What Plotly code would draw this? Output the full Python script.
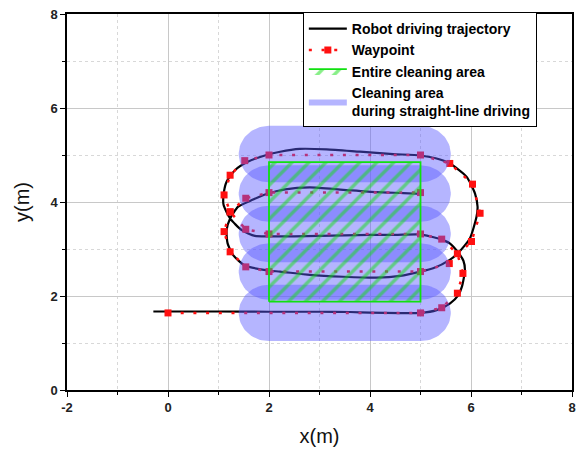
import numpy as np
import plotly.graph_objects as go

# ---- data ----
traj_x = [-0.29, 0.5, 1.0, 2.0, 3.0, 3.6, 4.0, 4.6, 5.0, 5.32,
          5.58, 5.75, 5.82, 5.88, 5.85, 5.75, 5.58, 5.39, 4.99,
          4.5, 4.0, 3.5, 3.0, 2.5, 2.0, 1.72,
          1.46, 1.23, 1.10, 1.10, 1.16, 1.33, 1.59, 1.95, 2.22, 2.61,
          3.14, 3.80, 4.46, 4.99,
          5.30, 5.58, 5.91, 6.08, 6.13, 6.11, 5.98, 5.75, 5.58, 5.25, 5.0, 4.6,
          4.13, 3.47, 2.81, 2.22, 2.0,
          1.52, 1.29, 1.18, 1.16, 1.23, 1.39, 1.66, 1.95, 2.32,
          2.81, 3.47, 4.13, 4.66, 5.06]
traj_y = [1.67, 1.67, 1.67, 1.665, 1.665, 1.66, 1.645, 1.635, 1.64, 1.70,
          1.84, 2.02, 2.20, 2.55, 2.75, 2.92, 3.12, 3.21, 3.31,
          3.30, 3.30, 3.29, 3.28, 3.27, 3.27, 3.28,
          3.40, 3.65, 3.94, 4.15, 4.43, 4.68, 4.86, 5.00, 5.07, 5.13,
          5.12, 5.07, 5.02, 4.99,
          4.93, 4.82, 4.54, 4.18, 3.90, 3.69, 3.23, 2.92, 2.77, 2.59, 2.52, 2.43,
          2.39, 2.41, 2.45, 2.52, 2.54,
          2.65, 2.87, 3.12, 3.40, 3.65, 3.90, 4.04, 4.17, 4.27,
          4.31, 4.26, 4.21, 4.19, 4.17]

wp_x = [0, 5, 5.42, 5.73, 5.84, 5.73, 5.42, 5, 2, 1.54, 1.23, 1.11, 1.23, 1.52, 2,
        5, 5.58, 6.03, 6.18, 6.01, 5.57, 5, 2, 1.54, 1.23, 1.11, 1.23, 1.54, 2, 5]
wp_y = [1.64, 1.64, 1.75, 2.06, 2.48, 2.90, 3.21, 3.32, 3.32, 3.42, 3.79, 4.15, 4.57, 4.88, 5.0,
        5.0, 4.82, 4.38, 3.76, 3.16, 2.69, 2.52, 2.52, 2.62, 2.94, 3.37, 3.79, 4.08, 4.2, 4.2]

area_x = [2.0, 5.0, 5.0, 2.0, 2.0]
area_y = [1.88, 1.88, 4.85, 4.85, 1.88]

row_y = [1.64, 2.52, 3.32, 4.18, 5.02]
row_x_start = 2.0
row_x_end = 5.0
clean_radius = 0.6

x_ticks = [-2, 0, 2, 4, 6, 8]
x_tick_labels = ["-2", "0", "2", "4", "6", "8"]
y_ticks = [0, 2, 4, 6, 8]
y_tick_labels = ["0", "2", "4", "6", "8"]

fig = go.Figure()

fig.add_trace(go.Scatter(
    x=traj_x, y=traj_y, mode="lines", name="Robot driving trajectory",
    line=dict(color="black", width=2.2, shape="spline", smoothing=0.6),
    legendrank=1))

fig.add_trace(go.Scatter(
    x=wp_x, y=wp_y, mode="lines+markers", name="Waypoint",
    line=dict(color="#ff1010", width=2.5, dash="3px,9.7px"),
    marker=dict(symbol="square", size=7, color="#ff1010"),
    legendrank=2))

# cleaning bands (capsules around each straight row)
for i, yc in enumerate(row_y):
    t1 = np.linspace(np.pi / 2, 3 * np.pi / 2, 40)
    t2 = np.linspace(-np.pi / 2, np.pi / 2, 40)
    cx = np.concatenate([row_x_start + clean_radius * np.cos(t1),
                         row_x_end + clean_radius * np.cos(t2)])
    cy = np.concatenate([yc + clean_radius * np.sin(t1),
                         yc + clean_radius * np.sin(t2)])
    cx = np.append(cx, cx[0])
    cy = np.append(cy, cy[0])
    fig.add_trace(go.Scatter(
        x=cx, y=cy, mode="lines", fill="toself",
        fillcolor="rgba(90,90,255,0.45)", line=dict(width=0, color="rgba(0,0,0,0)"),
        name="Cleaning area<br>during straight-line driving",
        showlegend=(i == 0), legendrank=4, hoverinfo="skip"))

fig.add_trace(go.Scatter(
    x=area_x, y=area_y, mode="lines", fill="toself", name="Entire cleaning area",
    line=dict(color="#10e010", width=1.8),
    fillcolor="rgba(0,0,0,0)",
    fillpattern=dict(shape="/", fgcolor="#10e010", bgcolor="rgba(0,0,0,0)",
                     size=12, solidity=0.28, fillmode="overlay"),
    legendrank=3))

axis_common = dict(
    showline=True, linecolor="black", linewidth=1.5, mirror=True,
    ticks="outside", ticklen=5, tickwidth=1.2, tickcolor="black",
    showgrid=True, gridcolor="#c8c8c8", gridwidth=1, zeroline=False,
    automargin=False, ticklabeloverflow="allow",
    tickfont=dict(family="Liberation Sans", size=13, color="#222", weight="bold"),
    minor=dict(dtick=1, ticks="outside", ticklen=3, tickcolor="black",
               showgrid=True, gridcolor="#d8d8d8", griddash="dot"),
)

fig.update_layout(
    width=579, height=454,
    margin=dict(l=67, r=7, t=14, b=64),
    paper_bgcolor="white", plot_bgcolor="white",
    xaxis=dict(range=[-2, 8], tickvals=x_ticks, ticktext=x_tick_labels,
               title=dict(text="x(m)", font=dict(family="Liberation Sans", size=20, color="#111"), standoff=15),
               **axis_common),
    yaxis=dict(range=[0, 8], tickvals=y_ticks, ticktext=y_tick_labels,
               title=dict(text="y(m)", font=dict(family="Liberation Sans", size=20, color="#111"), standoff=15),
               **axis_common),
    legend=dict(x=0.467, y=1.005, xanchor="left", yanchor="top",
                bgcolor="white", bordercolor="black", borderwidth=1,
                font=dict(family="Liberation Sans", size=14, color="black", weight="bold"),
                itemwidth=38, tracegroupgap=0),
    showlegend=True,
)

fig.write_html("out.html",
               config={"displayModeBar": False},
               post_script="document.body.style.margin='0';"
                           "document.body.style.overflow='hidden';")
